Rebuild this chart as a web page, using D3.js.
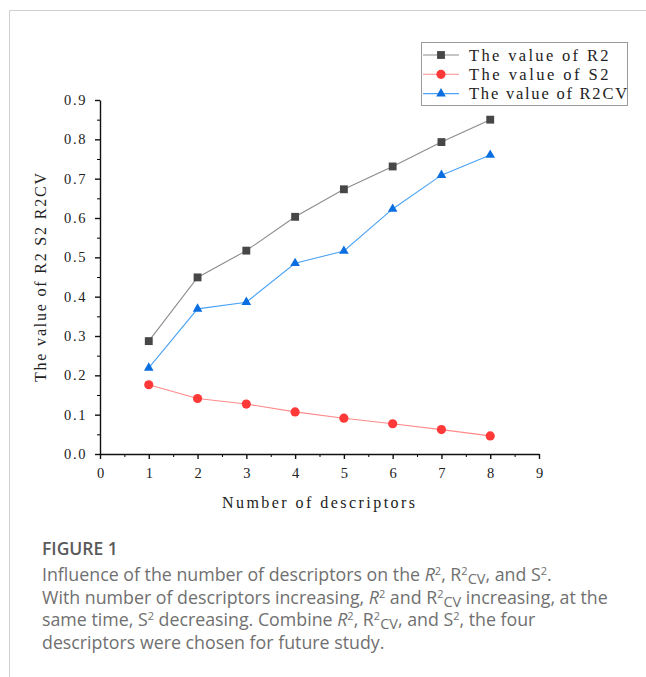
<!DOCTYPE html>
<html>
<head>
<meta charset="utf-8">
<script src="https://cdn.jsdelivr.net/npm/d3@7"></script>
<style>
  body { margin: 0; background: #fff; }
  svg { display: block; }
</style>
</head>
<body>
<svg id="chart"></svg>
<script>
// data
const descriptors = [1, 2, 3, 4, 5, 6, 7, 8];
const r2 = [0.287, 0.449, 0.517, 0.603, 0.673, 0.731, 0.793, 0.850];
const s2 = [0.176, 0.141, 0.127, 0.107, 0.091, 0.077, 0.062, 0.046];
const r2cv = [0.219, 0.369, 0.386, 0.485, 0.516, 0.623, 0.709, 0.760];
const seriesNames = ["The value of R2", "The value of S2", "The value of R2CV"];
const xTicks = [0, 1, 2, 3, 4, 5, 6, 7, 8, 9];
const yTicks = [0, 0.1, 0.2, 0.3, 0.4, 0.5, 0.6, 0.7, 0.8, 0.9];

const W = 646, H = 677;
const chartFont = "'Liberation Serif', serif";
const svg = d3.select("#chart").attr("width", W).attr("height", H);

// card border (top + left)
svg.append("path")
  .attr("d", `M9.5,${H} V10.5 H${W}`)
  .attr("fill", "none")
  .attr("stroke", "#d0d0d0");

const x = d3.scaleLinear().domain([0, 9]).range([100, 539]);
const y = d3.scaleLinear().domain([0, 0.9]).range([454, 100]);

// minor ticks first, majors on top
svg.append("g")
  .attr("transform", "translate(0,454)")
  .call(d3.axisBottom(x).tickValues(d3.range(0.5, 9, 1)).tickSize(3).tickFormat(""))
  .call(g => g.select(".domain").remove());
svg.append("g")
  .attr("transform", "translate(100,0)")
  .call(d3.axisLeft(y).tickValues(d3.range(0.05, 0.9, 0.1)).tickSize(3).tickFormat(""))
  .call(g => g.select(".domain").remove());

const xAxis = svg.append("g")
  .attr("transform", "translate(0,454)")
  .call(d3.axisBottom(x).tickValues(xTicks).tickSize(5).tickSizeOuter(0).tickPadding(9).tickFormat(d3.format("d")));
const yAxis = svg.append("g")
  .attr("transform", "translate(100,0)")
  .call(d3.axisLeft(y).tickValues(yTicks).tickSize(5).tickSizeOuter(0).tickPadding(8).tickFormat(d3.format(".1f")));

[xAxis, yAxis].forEach(g => {
  g.selectAll("path, line").attr("stroke", "#111").attr("stroke-width", 1.4);
  g.selectAll("text").attr("font-family", chartFont).attr("font-size", 14.5).attr("fill", "#222");
});
yAxis.selectAll("text").attr("letter-spacing", 1.6);

// axis titles
svg.append("text")
  .attr("x", 222).attr("y", 508)
  .attr("textLength", 193).attr("lengthAdjust", "spacing")
  .attr("font-family", chartFont).attr("font-size", 16).attr("fill", "#222")
  .text("Number of descriptors");
svg.append("text")
  .attr("transform", "translate(46,382) rotate(-90)")
  .attr("textLength", 209).attr("lengthAdjust", "spacing")
  .attr("font-family", chartFont).attr("font-size", 16).attr("fill", "#222")
  .text("The value of R2 S2 R2CV");

// series
const series = [
  { name: seriesNames[0], values: r2, line: "#8c8c8c", fill: "#474747", symbol: d3.symbolSquare, size: 62 },
  { name: seriesNames[1], values: s2, line: "#ff8a8a", fill: "#ff3838", symbol: d3.symbolCircle, size: 66 },
  { name: seriesNames[2], values: r2cv, line: "#4aa3f5", fill: "#0a6ee0", symbol: d3.symbolTriangle, size: 40 }
];

const line = d3.line()
  .x((d, i) => x(descriptors[i]))
  .y(d => y(d));

series.forEach(s => {
  svg.append("path")
    .datum(s.values)
    .attr("d", line)
    .attr("fill", "none")
    .attr("stroke", s.line)
    .attr("stroke-width", 1.1);
  svg.append("g").selectAll("path")
    .data(s.values)
    .join("path")
      .attr("transform", (d, i) => `translate(${x(descriptors[i])},${y(d)})`)
      .attr("d", d3.symbol(s.symbol, s.size))
      .attr("fill", s.fill);
});

// legend
const legend = svg.append("g");
legend.append("rect")
  .attr("x", 421.5).attr("y", 42.5)
  .attr("width", 206).attr("height", 63)
  .attr("fill", "#fff")
  .attr("stroke", "#9a9a9a");
series.forEach((s, i) => {
  const ly = 55 + i * 19.3;
  legend.append("line")
    .attr("x1", 423).attr("x2", 459)
    .attr("y1", ly).attr("y2", ly)
    .attr("stroke", s.line).attr("stroke-width", 1.1);
  legend.append("path")
    .attr("transform", `translate(441,${ly})`)
    .attr("d", d3.symbol(s.symbol, s.size))
    .attr("fill", s.fill);
  legend.append("text")
    .attr("x", 469).attr("y", ly + 5.5)
    .attr("textLength", s.name.length * 9.3).attr("lengthAdjust", "spacing")
    .attr("font-family", chartFont).attr("font-size", 16.5).attr("fill", "#222")
    .text(s.name);
});

// caption
const capFont = "'Open Sans', sans-serif";
svg.append("text")
  .attr("x", 42).attr("y", 555)
  .attr("font-family", capFont).attr("font-size", 17.5).attr("font-weight", 600)
  .attr("fill", "#5a5a5a")
  .text("FIGURE 1");

// each line is a list of [text, style] pieces: n normal, i italic, sup, sub
const captionLines = [
  [["Influence of the number of descriptors on the ", "n"], ["R", "i"], ["2", "sup"], [", R", "n"], ["2", "sup"], ["CV", "sub"], [", and S", "n"], ["2", "sup"], [".", "n"]],
  [["With number of descriptors increasing, ", "n"], ["R", "i"], ["2", "sup"], [" and R", "n"], ["2", "sup"], ["CV", "sub"], [" increasing, at the", "n"]],
  [["same time, S", "n"], ["2", "sup"], [" decreasing. Combine ", "n"], ["R", "i"], ["2", "sup"], [", R", "n"], ["2", "sup"], ["CV", "sub"], [", and S", "n"], ["2", "sup"], [", the four", "n"]],
  [["descriptors were chosen for future study.", "n"]]
];

captionLines.forEach((pieces, li) => {
  const t = svg.append("text")
    .attr("x", 42).attr("y", 581 + li * 22.5)
    .attr("font-family", capFont).attr("font-size", 17.8)
    .attr("fill", "#707070");
  pieces.forEach(([txt, kind]) => {
    const ts = t.append("tspan").text(txt);
    if (kind === "i") ts.attr("font-style", "italic");
    if (kind === "sup") ts.attr("font-size", 11).attr("baseline-shift", "55%");
    if (kind === "sub") ts.attr("font-size", 14.5).attr("baseline-shift", "-22%");
  });
});
</script>
</body>
</html>
